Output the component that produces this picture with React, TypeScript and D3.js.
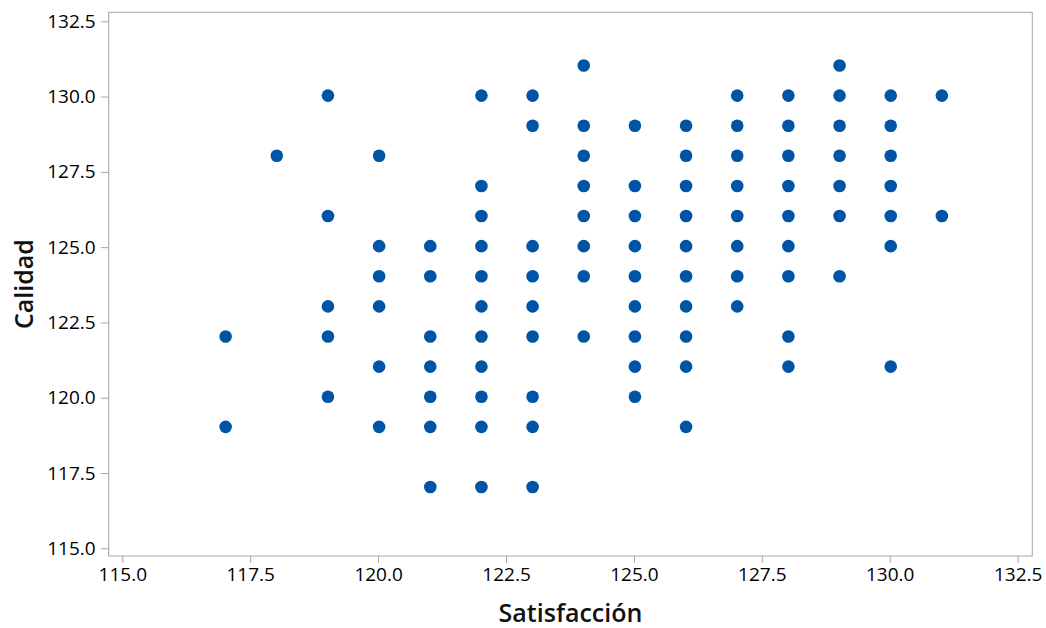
import React, { useEffect, useRef } from "react";
import * as d3 from "d3";

// Satisfacción values (x) and the Calidad values (y) seen at each one
const satisfaccion = [117, 118, 119, 120, 121, 122, 123, 124, 125, 126, 127, 128, 129, 130, 131];
const calidad = [
  [122, 119],
  [128],
  [130, 126, 123, 122, 120],
  [128, 125, 124, 123, 121, 119],
  [125, 124, 122, 121, 120, 119, 117],
  [130, 127, 126, 125, 124, 123, 122, 121, 120, 119, 117],
  [130, 129, 125, 124, 123, 122, 120, 119, 117],
  [131, 129, 128, 127, 126, 125, 124, 122],
  [129, 127, 126, 125, 124, 123, 122, 121, 120],
  [129, 128, 127, 126, 125, 124, 123, 122, 121, 119],
  [130, 129, 128, 127, 126, 125, 124, 123],
  [130, 129, 128, 127, 126, 125, 124, 122, 121],
  [131, 130, 129, 128, 127, 126, 124],
  [130, 129, 128, 127, 126, 125, 121],
  [130, 126],
];
const xTicks = [115, 117.5, 120, 122.5, 125, 127.5, 130, 132.5];
const yTicks = [115, 117.5, 120, 122.5, 125, 127.5, 130, 132.5];

const dims = { width: 1046, height: 628 };
const frame = { left: 108.7, right: 1032.3, top: 12.3, bottom: 556 };
const font = "'Segoe UI', 'Open Sans', sans-serif";

const buildChart = (el: SVGSVGElement) => {
  const svg = d3.select(el);
  svg.selectAll("*").remove();

  const points = satisfaccion.flatMap((s, i) => calidad[i].map(c => ({ s, c })));

  const x = d3.scaleLinear().domain([114.734, 132.787]).range([frame.left, frame.right]);
  const y = d3.scaleLinear().domain([114.744, 132.799]).range([frame.bottom, frame.top]);

  svg
    .append("rect")
    .attr("x", frame.left)
    .attr("y", frame.top)
    .attr("width", frame.right - frame.left)
    .attr("height", frame.bottom - frame.top)
    .attr("fill", "white")
    .attr("stroke", "#a6a6a6")
    .attr("stroke-width", 1);

  const fmt = d3.format(".1f");

  const xAxis = svg
    .append("g")
    .attr("transform", `translate(0, ${frame.bottom})`)
    .call(d3.axisBottom(x).tickValues(xTicks).tickFormat(d => fmt(d as number)).tickSize(7).tickPadding(5));

  const yAxis = svg
    .append("g")
    .attr("transform", `translate(${frame.left}, 0)`)
    .call(d3.axisLeft(y).tickValues(yTicks).tickFormat(d => fmt(d as number)).tickSize(8).tickPadding(5));

  [xAxis, yAxis].forEach(ax => {
    ax.select(".domain").remove();
    ax.selectAll(".tick line").attr("stroke", "#a6a6a6");
    ax.selectAll(".tick text")
      .attr("fill", "#000")
      .style("font-family", font)
      .style("font-size", "19px")
      .style("font-weight", 500);
  });

  svg
    .append("g")
    .selectAll("circle")
    .data(points)
    .enter()
    .append("circle")
    .attr("cx", d => x(d.s) + 1)
    .attr("cy", d => y(d.c) - 1)
    .attr("r", 6.3)
    .attr("fill", "#0054a6");

  svg
    .append("text")
    .attr("x", (frame.left + frame.right) / 2)
    .attr("y", 622)
    .attr("text-anchor", "middle")
    .style("font-family", font)
    .style("font-size", "25px")
    .style("font-weight", 600)
    .attr("fill", "#111")
    .text("Satisfacción");

  svg
    .append("text")
    .attr("transform", `translate(33, ${(frame.top + frame.bottom) / 2}) rotate(-90)`)
    .attr("text-anchor", "middle")
    .style("font-family", font)
    .style("font-size", "25px")
    .style("font-weight", 600)
    .attr("fill", "#111")
    .text("Calidad");
};

function App() {
  const ref = useRef<SVGSVGElement>(null);

  useEffect(() => {
    if (ref.current) buildChart(ref.current);
  }, []);

  return (
    <svg
      ref={ref}
      width={dims.width}
      height={dims.height}
      style={{ position: "absolute", left: 0, top: 0, background: "white" }}
    />
  );
}

export default App;
